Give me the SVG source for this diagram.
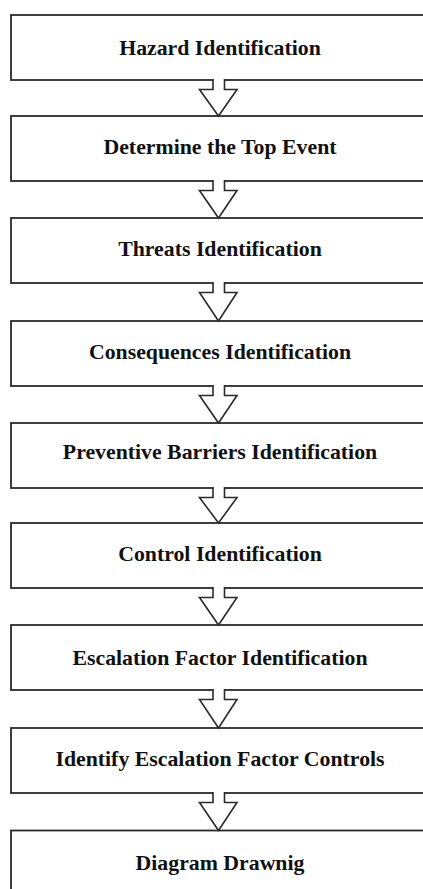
<svg xmlns="http://www.w3.org/2000/svg" width="423" height="889" viewBox="0 0 423 889">
<style>
.box{fill:#fff;stroke:#2a2a2a;stroke-width:1.8}
.arr{fill:#fff;stroke:#2a2a2a;stroke-width:1.6;stroke-linejoin:miter}
.lbl{font-family:'Liberation Serif',serif;font-weight:700;font-size:21.8px;fill:#111;text-anchor:middle}
</style>
<rect width="423" height="889" fill="#fff"/>
<g id="node1"><rect class="box" x="11" y="15" width="430" height="65"/><text class="lbl" x="220" y="55" font-family="Liberation Serif">Hazard Identification</text></g>
<g id="node2"><rect class="box" x="11" y="116" width="430" height="65"/><text class="lbl" x="220" y="153.5" font-family="Liberation Serif">Determine the Top Event</text></g>
<g id="node3"><rect class="box" x="11" y="218" width="430" height="65"/><text class="lbl" x="220" y="256" font-family="Liberation Serif">Threats Identification</text></g>
<g id="node4"><rect class="box" x="11" y="321" width="430" height="65"/><text class="lbl" x="220" y="359" font-family="Liberation Serif">Consequences Identification</text></g>
<g id="node5"><rect class="box" x="11" y="423" width="430" height="65"/><text class="lbl" x="220" y="459" font-family="Liberation Serif">Preventive Barriers Identification</text></g>
<g id="node6"><rect class="box" x="11" y="523" width="430" height="65"/><text class="lbl" x="220" y="561" font-family="Liberation Serif">Control Identification</text></g>
<g id="node7"><rect class="box" x="11" y="625" width="430" height="65"/><text class="lbl" x="220" y="665" font-family="Liberation Serif">Escalation Factor Identification</text></g>
<g id="node8"><rect class="box" x="11" y="728" width="430" height="65"/><text class="lbl" x="220" y="766" font-family="Liberation Serif">Identify Escalation Factor Controls</text></g>
<g id="node9"><rect class="box" x="11" y="830.5" width="430" height="80"/><text class="lbl" x="220" y="870" font-family="Liberation Serif">Diagram Drawnig</text></g>
<g id="connectors">
<path class="arr" d="M213,79 V89.5 H199.5 L218.5,116 L237,89.5 H224.5 V79"/>
<path class="arr" d="M213,180 V190.5 H199.5 L218.5,218 L237,190.5 H224.5 V180"/>
<path class="arr" d="M213,282 V292.5 H199.5 L218.5,321 L237,292.5 H224.5 V282"/>
<path class="arr" d="M213,385 V395.5 H199.5 L218.5,423 L237,395.5 H224.5 V385"/>
<path class="arr" d="M213,487 V497.5 H199.5 L218.5,523 L237,497.5 H224.5 V487"/>
<path class="arr" d="M213,587 V597.5 H199.5 L218.5,625 L237,597.5 H224.5 V587"/>
<path class="arr" d="M213,689 V699.5 H199.5 L218.5,728 L237,699.5 H224.5 V689"/>
<path class="arr" d="M213,792 V802.5 H199.5 L218.5,830.5 L237,802.5 H224.5 V792"/>
</g>
</svg>
